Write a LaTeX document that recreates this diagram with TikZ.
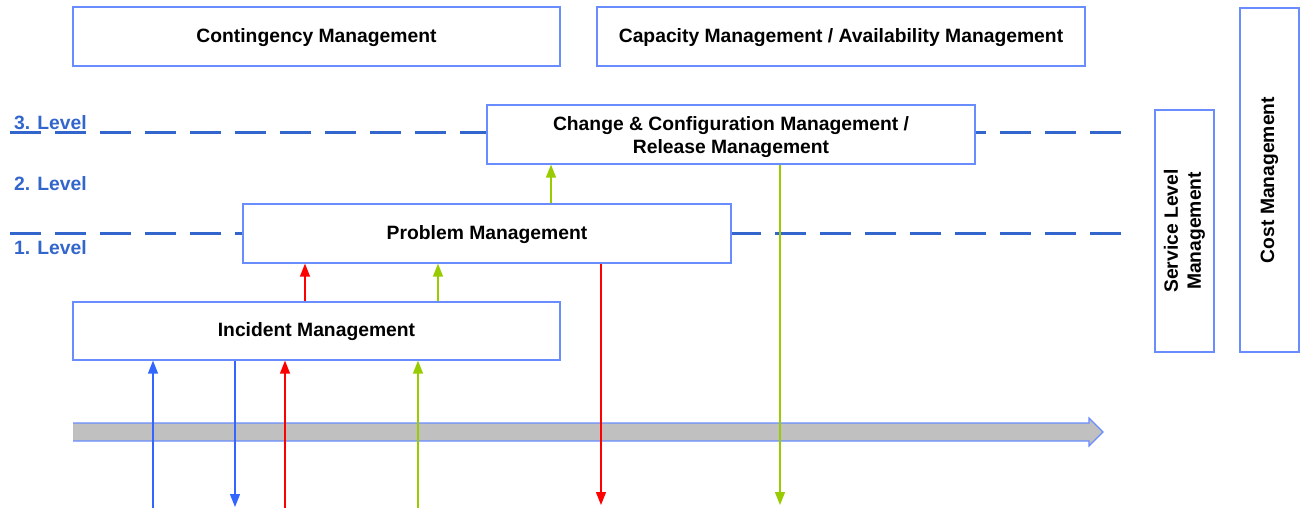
\documentclass[tikz,border=0pt]{standalone}
\usepackage{fontspec}
\setmainfont{Liberation Sans}
\usetikzlibrary{arrows.meta}
\definecolor{boxblue}{RGB}{105,140,255}
\definecolor{lvlblue}{RGB}{51,102,204}
\definecolor{arrblue}{RGB}{51,102,255}
\definecolor{arrred}{RGB}{255,0,0}
\definecolor{arrgreen}{RGB}{153,204,0}
\definecolor{bargray}{RGB}{192,192,192}
\newcommand\labfont{\fontsize{19.3}{23}\selectfont\bfseries}
\begin{document}
\begin{tikzpicture}[x=1pt,y=-1pt,
  box/.style={draw=boxblue, line width=1.2pt, fill=white, font=\labfont, align=center, inner sep=0pt},
  lvl/.style={text=lvlblue, font=\labfont, anchor=west, inner sep=0pt},
  dashline/.style={draw=lvlblue, line width=3pt, dash pattern=on 31pt off 14pt},
  arr/.style={line width=1.3pt, -{Triangle[width=10pt,length=13pt]}}
]
\useasboundingbox (0,0) rectangle (1310,532);

% level dashed lines
\coordinate (d3a) at (10,133); \coordinate (d3b) at (1127,133);
\coordinate (d1a) at (10,233); \coordinate (d1b) at (1127,233);
\draw[dashline] (d3a) -- (d3b);
\draw[dashline] (d1a) -- (d1b);

\node[lvl] (l3) at (14,123) {3. Level};
\node[lvl] (l2) at (14,184) {2. Level};
\node[lvl] (l1) at (14,248) {1. Level};

% big time arrow
\fill[bargray] (73,423) -- (1089,423) -- (1089,418) -- (1103,432) -- (1089,446) -- (1089,441) -- (73,441) -- cycle;
\draw[boxblue, line width=1.2pt] (73,423) -- (1089,423) -- (1089,418) -- (1103,432) -- (1089,446) -- (1089,441) -- (73,441);

% boxes
\node[box, minimum width=487pt, minimum height=59pt] (cont) at (316.5,36.5) {\raisebox{-1pt}[\height][\depth]{Contingency Management}};
\node[box, minimum width=488pt, minimum height=59pt] (cap) at (841,36.5) {\raisebox{-1pt}[\height][\depth]{Capacity Management / Availability Management}};
\node[box, minimum width=488pt, minimum height=59pt] (chg) at (731,134.5) {\raisebox{-2.5pt}[\height][\depth]{\begin{tabular}{@{}c@{}}Change \& Configuration Management /\\Release Management\end{tabular}}};
\node[box, minimum width=488pt, minimum height=59pt] (prob) at (487,233.5) {\raisebox{-1pt}[\height][\depth]{Problem Management}};
\node[box, minimum width=487pt, minimum height=58pt] (inc) at (316.5,331) {\raisebox{-1pt}[\height][\depth]{Incident Management}};
\node[box, rotate=90, minimum width=242pt, minimum height=59pt] (slm) at (1184.5,231) {Service Level\\Management};
\node[box, rotate=90, minimum width=344pt, minimum height=59pt] (cost) at (1269.5,180) {Cost Management};

% vertical arrows
\coordinate (a1) at (153,508);
\coordinate (a2) at (235,507);
\coordinate (a3) at (285,508);
\coordinate (a4) at (418,508);
\coordinate (a5) at (601,505);
\coordinate (a6) at (780,505);
\coordinate (x1) at (305,0);
\coordinate (x2) at (438,0);
\coordinate (x3) at (551,0);

\draw[arr, arrblue] (a1) -- (a1 |- inc.south);
\draw[arr, arrblue] (a2 |- inc.south) -- (a2);
\draw[arr, arrred] (a3) -- (a3 |- inc.south);
\draw[arr, arrgreen] (a4) -- (a4 |- inc.south);
\draw[arr, arrred] (x1 |- inc.north) -- (x1 |- prob.south);
\draw[arr, arrgreen] (x2 |- inc.north) -- (x2 |- prob.south);
\draw[arr, arrgreen] (x3 |- prob.north) -- (x3 |- chg.south);
\draw[arr, arrred] (a5 |- prob.south) -- (a5);
\draw[arr, arrgreen] (a6 |- chg.south) -- (a6);
\end{tikzpicture}
\end{document}
